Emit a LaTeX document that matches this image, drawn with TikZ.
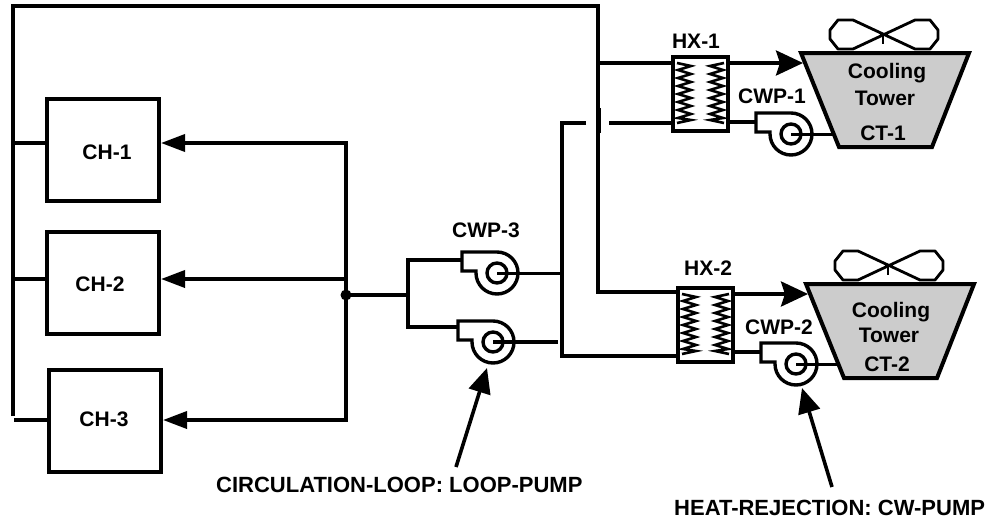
\documentclass[tikz,border=0pt]{standalone}
\usepackage{fontspec}
\setmainfont{Liberation Sans}
\usetikzlibrary{arrows.meta}
\tikzset{
 pipe/.style={line width=3.6pt,line join=miter},
 thinpipe/.style={line width=3pt},
 flow/.style={pipe,-{Triangle[length=24pt,width=17pt]}},
 bigflow/.style={pipe,-{Stealth[length=27pt,width=25pt,inset=4pt]}},
 callout/.style={pipe,-{Triangle[length=25pt,width=22pt]}},
 chbox/.style={draw,line width=4pt,fill=white,inner sep=0pt,minimum width=112pt,minimum height=102pt},
 lab/.style={font=\bfseries\fontsize{21}{24}\selectfont,inner sep=0pt,text=black},
 biglab/.style={font=\bfseries\fontsize{22}{24}\selectfont,inner sep=0pt,text=black},
 zig/.style={line width=2.6pt,line join=miter}
}
\newcommand{\pumpshape}[2]{%
 \begin{scope}[shift={(#1,#2)}]
  \draw[line width=3.4pt,fill=white] (-35,-21) -- (0,-21) arc[start angle=-90,end angle=180,radius=21] -- (-21,-2) -- (-35,-2) -- cycle;
  \draw[line width=3.4pt] (0,0) circle[radius=10];
 \end{scope}}
\newcommand{\hxshape}[2]{%
 \begin{scope}[shift={(#1,#2)}]
  \draw[line width=4pt,fill=white] (0,0) rectangle (55,74);
  \draw[zig] (4,6) -- (18,9) -- (5,13) -- (18,17) -- (5,21) -- (18,25) -- (5,29) -- (18,33) -- (5,37) -- (18,41) -- (5,45) -- (18,49) -- (5,53) -- (18,57) -- (5,61) -- (18,63) -- (4,66);
  \draw[zig] (51,6) -- (37,9) -- (50,13) -- (37,17) -- (50,21) -- (37,25) -- (50,29) -- (37,33) -- (50,37) -- (37,41) -- (50,45) -- (37,49) -- (50,53) -- (37,57) -- (50,61) -- (37,63) -- (51,66);
 \end{scope}}
\newcommand{\towershape}[2]{%
 \begin{scope}[shift={(#1,#2)}]
  \draw[line width=4pt,fill=black!20] (0,0) -- (168,0) -- (131,94) -- (38,94) -- cycle;
  \draw[line width=2.8pt,line join=round] (82,-19) -- (52,-33) -- (37,-33) -- (29,-23) -- (29,-14) -- (37,-4) -- (52,-4) -- (114,-33) -- (129,-33) -- (137,-23) -- (137,-14) -- (129,-4) -- (114,-4) -- cycle;
  \draw[line width=2.8pt] (82,-19) -- (82,-9);
 \end{scope}}
\begin{document}
\begin{tikzpicture}[x=1pt,y=-1pt]
\useasboundingbox (0,0) rectangle (987,522);
% chillers
\node[chbox] (ch1) at (103,150) {};
\node[chbox] (ch2) at (103,283) {};
\node[chbox] (ch3) at (105,421) {};
\node[lab] at (107,152) {CH-1};
\node[lab] at (100,284) {CH-2};
\node[lab] at (104,419) {CH-3};
% supply header
\draw[pipe] (13,416) -- (13,6) -- (598,6) -- (598,292) -- (680,292);
\draw[pipe] (13,143) -- (ch1.west |- 13,143);
\draw[pipe] (13,279) -- (ch2.west |- 13,279);
\draw[pipe] (14,420) -- (ch3.west |- 14,420);
\draw[line width=5pt] (598,108) -- (598,133);
\draw[pipe] (598,63) -- (675,63);
\draw[pipe] (609,123) -- (675,123);
% return
\coordinate (junc) at (346,295);
\draw[flow] (346,143) -- (ch1.east |- 346,143);
\draw[flow] (346,279) -- (ch2.east |- 346,279);
\draw[flow] (346,420) -- (ch3.east |- 346,420);
\draw[pipe] (346,141.2) -- (346,421.8);
\fill (junc) circle[radius=5.5];
\draw[pipe] (junc) -- (408,295);
\draw[pipe] (462,260) -- (408,260) -- (408,327) -- (458,327);
% circulation pumps
\draw[thinpipe] (518,273) -- (562,273);
\draw[pipe] (514,342) -- (558,342);
\draw[pipe] (586,123) -- (562,123) -- (562,356) -- (680,356);
\pumpshape{497}{273}
\pumpshape{493}{342}
\draw[thinpipe] (497,273) -- (518,273);
\draw[pipe] (493,342) -- (514,342);
\node[lab] at (486,230) {CWP-3};
% HX
\hxshape{673}{57}
\hxshape{678}{288}
\node[lab] at (696,41) {HX-1};
\node[lab] at (708,268) {HX-2};
\draw[bigflow] (728,63) -- (803,63);
\draw[bigflow] (733,294) -- (808,294);
\draw[pipe] (728,122) -- (760,122);
\draw[pipe] (733,352) -- (765,352);
% towers
\towershape{801}{53}
\towershape{806}{284}
\node[lab] at (887,73) {Cooling};
\node[lab] at (885,98) {Tower};
\node[lab] at (883,133) {CT-1};
\node[lab] at (891,312) {Cooling};
\node[lab] at (889,335) {Tower};
\node[lab] at (887,364) {CT-2};
\pumpshape{791}{134}
\pumpshape{796}{364}
\draw[thinpipe] (791,134) -- (833,134);
\draw[thinpipe] (796,364) -- (838,364);
\node[lab] at (772,96) {CWP-1};
\node[lab] at (779,327) {CWP-2};
% callouts
\coordinate (a1) at (456,467);
\coordinate (a2) at (832,487);
\coordinate (t1) at (487,368);
\coordinate (t2) at (802,388);
\draw[callout] (a1) -- (t1);
\draw[callout] (a2) -- (t2);
\node[biglab,anchor=west] at (216,485) {CIRCULATION-LOOP: LOOP-PUMP};
\node[biglab,anchor=west] at (674,508) {HEAT-REJECTION: CW-PUMP};
\end{tikzpicture}
\end{document}
